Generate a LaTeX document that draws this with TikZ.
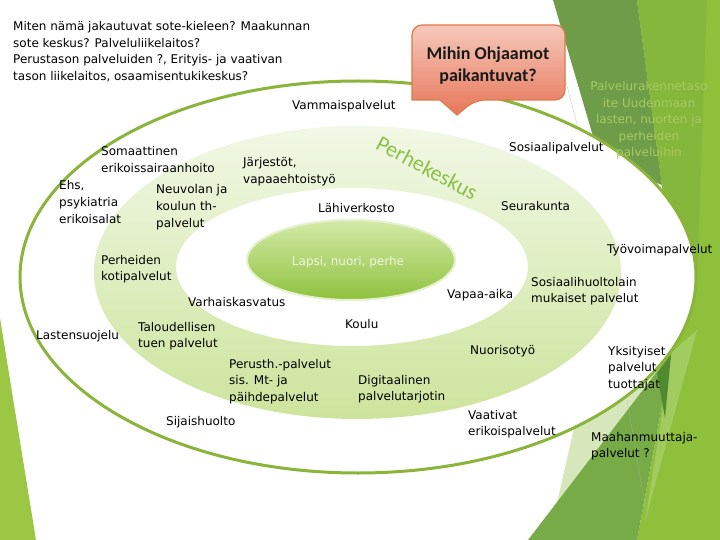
\documentclass[tikz,border=0pt]{standalone}
\usepackage{fontspec}
\setmainfont{DejaVu Sans}
\newfontfamily\calfont{Carlito}
\usepackage{xcolor}
\definecolor{facetdark}{RGB}{111,156,72}
\definecolor{facetmid}{RGB}{134,183,61}
\definecolor{facetbright}{RGB}{143,192,60}
\definecolor{facetpale}{RGB}{214,232,187}
\definecolor{facetdeep}{RGB}{119,171,71}
\definecolor{facetlight}{RGB}{162,203,96}
\definecolor{facetshadow}{RGB}{79,138,48}
\definecolor{stripgreen}{RGB}{156,199,68}
\definecolor{ringline}{RGB}{138,180,58}
\definecolor{bandtop}{RGB}{241,248,230}
\definecolor{bandbot}{RGB}{205,228,156}
\definecolor{kidtop}{RGB}{212,234,168}
\definecolor{kidbot}{RGB}{143,194,63}
\definecolor{kidrim}{RGB}{228,241,204}
\definecolor{kidtext}{RGB}{238,246,222}
\definecolor{calltop}{RGB}{246,201,187}
\definecolor{callbot}{RGB}{230,119,90}
\definecolor{callline}{RGB}{222,122,72}
\definecolor{titlegreen}{RGB}{141,191,69}
\definecolor{fadegreen}{RGB}{166,203,99}

\begin{document}
\begin{tikzpicture}[x=1pt, y=-1pt,
    lbl/.style={font=\fontsize{12}{16.5}\selectfont, align=left, anchor=base west, inner sep=0pt}]
  \useasboundingbox (0,0) rectangle (720,540);
  % Facet background, right side
  \fill[facetbright] (637,0) -- (720,0) -- (720,540) -- (637,540) -- (672,352) -- (662,185) -- cycle;
  \fill[facetdark] (553,0) -- (637,0) -- (662,185) -- (600,160) -- cycle;
  \fill[facetmid] (637,0) -- (707,0) -- (697,280) -- (662,185) -- cycle;
  \fill[facetpale] (555,512) -- (578,410) -- (672,352) -- cycle;
  \fill[facetdeep] (528,540) -- (672,352) -- (637,540) -- cycle;
  \fill[facetlight] (672,352) -- (697,330) -- (645,522) -- cycle;
  \fill[facetshadow] (657,373) -- (671,355) -- (665,418) -- cycle;
  \draw[gray!60, very thin] (559,55) -- (578,128);
  \draw[gray!60, very thin] (627,400) -- (647,517);
  % Facet strip, left side
  \fill[stripgreen] (0,318) -- (36,540) -- (0,540) -- cycle;

  % Outer ring
  \filldraw[fill=white, draw=ringline, line width=3pt] (358,277) ellipse (338pt and 196pt);
  % Perhekeskus band
  \shade[top color=bandtop, bottom color=bandbot, even odd rule]
    (357.5,272.5) ellipse (263.5pt and 146.5pt) (352,267) ellipse (176pt and 79pt);
  % Child in the middle
  \shadedraw[top color=kidtop, bottom color=kidbot, draw=kidrim, line width=2pt]
    (351,260) ellipse (104pt and 40pt);
  \node[font=\fontsize{12}{14}\selectfont, text=kidtext] (lapsi) at (348,262) {Lapsi, nuori, perhe};
  \node[font=\calfont\fontsize{22}{24}\selectfont, text=titlegreen, rotate=-28] (perhekeskus)
    at (427,168) {Perhekeskus};

  % Question text (base = last line)
  \node[lbl] (question) at (13,80.5) {Miten nämä jakautuvat sote-kieleen? Maakunnan\\
    sote keskus? Palveluliikelaitos?\\Perustason palveluiden ?, Erityis- ja vaativan\\
    tason liikelaitos, osaamisentukikeskus?};

  % Services
  \node[lbl] (vammais) at (292,110) {Vammaispalvelut};
  \node[lbl] (sosiaali) at (509,152) {Sosiaalipalvelut};
  \node[lbl] (somaattinen) at (101,172.5) {Somaattinen\\erikoissairaanhoito};
  \node[lbl] (jarjestot) at (243,183.5) {Järjestöt,\\vapaaehtoistyö};
  \node[lbl] (ehs) at (59,223) {Ehs,\\psykiatria\\erikoisalat};
  \node[lbl] (neuvola) at (156,227) {Neuvolan ja\\koulun th-\\palvelut};
  \node[lbl] (lahiverkosto) at (318,213) {Lähiverkosto};
  \node[lbl] (seurakunta) at (501,211) {Seurakunta};
  \node[lbl] (tyovoima) at (607,253) {Työvoimapalvelut};
  \node[lbl] (kotipalvelut) at (101,280.5) {Perheiden\\kotipalvelut};
  \node[lbl] (sosiaalihuolto) at (531,302.5) {Sosiaalihuoltolain\\mukaiset palvelut};
  \node[lbl] (vapaaaika) at (447,298) {Vapaa-aika};
  \node[lbl] (varhais) at (188,306) {Varhaiskasvatus};
  \node[lbl] (koulu) at (345,328) {Koulu};
  \node[lbl] (lastensuojelu) at (36,339) {Lastensuojelu};
  \node[lbl] (taloudellinen) at (138,347.5) {Taloudellisen\\tuen palvelut};
  \node[lbl] (nuorisotyo) at (470,354) {Nuorisotyö};
  \node[lbl] (yksityiset) at (608,388) {Yksityiset\\palvelut\\tuottajat};
  \node[lbl] (perusth) at (229,401) {Perusth.-palvelut\\sis. Mt- ja\\päihdepalvelut};
  \node[lbl] (digitaalinen) at (358,400.5) {Digitaalinen\\palvelutarjotin};
  \node[lbl] (sijaishuolto) at (166,425) {Sijaishuolto};
  \node[lbl] (vaativat) at (468,435.5) {Vaativat\\erikoispalvelut};
  \node[lbl] (maahanmuutto) at (591,457.5) {Maahanmuuttaja-\\palvelut ?};

  % Callout
  \shadedraw[top color=calltop, bottom color=callbot, draw=callline, line width=1.2pt,
      rounded corners=10pt]
    (412,60) -- (412,25) -- (565,25) -- (565,100) -- (475,100) [sharp corners]
    -- (457,115) -- (440,100) -- (412,100) [rounded corners=10pt] -- cycle;
  \node[font=\calfont\bfseries\fontsize{18}{22}\selectfont, align=center, text=black!90]
    (ohjaamot) at (488,66) {Mihin Ohjaamot\\paikantuvat?};

  % Faded text on the facets
  \node[font=\fontsize{12}{16.5}\selectfont, align=center, anchor=base, inner sep=0pt,
      text=fadegreen] (rakenne) at (649,157)
    {Palvelurakennetaso\\ite Uudenmaan\\lasten, nuorten ja\\perheiden\\palveluihin};
\end{tikzpicture}
\end{document}
